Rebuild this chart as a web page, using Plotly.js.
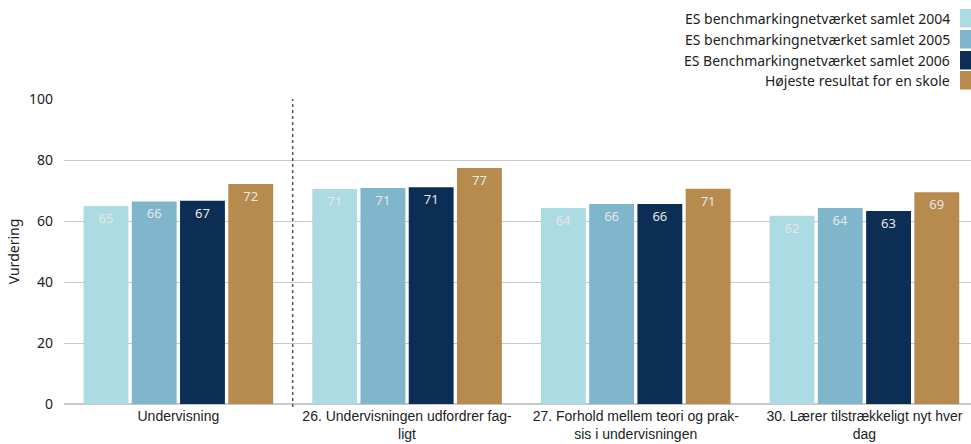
<!DOCTYPE html>
<html>
<head>
<meta charset="utf-8">
<script src="https://cdn.plot.ly/plotly-3.0.1.min.js"></script>
<style>html,body{margin:0;padding:0;background:#fff;}#chart{width:971px;height:444px;}</style>
</head>
<body>
<div id="chart"></div>
<script>
const categories = ["Undervisning", "26. Undervisningen udfordrer fag-<br>ligt", "27. Forhold mellem teori og prak-<br>sis i undervisningen", "30. Lærer tilstrækkeligt nyt hver<br>dag"];
const seriesNames = ["ES benchmarkingnetværket samlet 2004", "ES benchmarkingnetværket samlet 2005", "ES Benchmarkingnetværket samlet 2006", "Højeste resultat for en skole"];
const values2004 = [64.9, 70.5, 64.3, 61.7];
const values2005 = [66.4, 70.8, 65.6, 64.3];
const values2006 = [66.6, 71.1, 65.6, 63.3];
const valuesBest = [72.1, 77.4, 70.6, 69.4];
const labels2004 = ["65", "71", "64", "62"];
const labels2005 = ["66", "71", "66", "64"];
const labels2006 = ["67", "71", "66", "63"];
const labelsBest = ["72", "77", "71", "69"];
const colors = ["#ADDBE3", "#7FB6CB", "#0C2E55", "#B78A4E"];
const yTicks = [0, 20, 40, 60, 80, 100];

const allValues = [values2004, values2005, values2006, valuesBest];
const allLabels = [labels2004, labels2005, labels2006, labelsBest];
const xIdx = categories.map((c, i) => i);

const traces = allValues.map((v, k) => ({
  type: 'bar',
  name: seriesNames[k],
  x: xIdx,
  y: v,
  text: allLabels[k],
  textposition: 'inside',
  insidetextanchor: 'end',
  textangle: 0,
  textfont: {family: 'Noto Sans, sans-serif', size: 13, color: '#E6E6E6'},
  marker: {color: colors[k], line: {width: 0}},
  hoverinfo: 'skip',
  showlegend: false,
  cliponaxis: false
}));

const shapes = [{
  type: 'line', xref: 'x', yref: 'paper', x0: 0.5, x1: 0.5, y0: -0.01, y1: 1,
  line: {color: '#555', width: 1.5, dash: 'dot'}
}];
const annotations = [];
const rowTop = [9, 30, 51, 71];
const rowH = 18.5;
const plotTop = 99, plotH = 305, plotL = 64, plotW = 907;
seriesNames.forEach((n, k) => {
  const yTopPx = rowTop[k];
  const y1 = (plotTop + plotH - yTopPx) / plotH;
  const y0 = (plotTop + plotH - yTopPx - rowH) / plotH;
  shapes.push({type: 'rect', xref: 'paper', yref: 'paper',
    x0: (960 - plotL) / plotW, x1: 1, y0: y0, y1: y1,
    fillcolor: colors[k], line: {width: 0}});
  annotations.push({xref: 'paper', yref: 'paper', x: (952 - plotL) / plotW, y: (y0 + y1) / 2,
    xanchor: 'right', yanchor: 'middle', showarrow: false, text: n,
    font: {family: 'Noto Sans, sans-serif', size: 14, color: '#222'}});
});

const layout = {
  width: 971, height: 444,
  margin: {l: 64, r: 0, t: 99, b: 40},
  paper_bgcolor: '#fff', plot_bgcolor: '#fff',
  barmode: 'group', bargap: 0.156, bargroupgap: 0.07,
  xaxis: {
    range: [-0.5, 3.466],
    tickvals: xIdx, ticktext: categories,
    showgrid: false, zeroline: false, showline: false, ticks: '',
    tickfont: {family: 'Liberation Sans, Arial, sans-serif', size: 14, color: '#222'},
    ticklabelstandoff: 2,
    fixedrange: true
  },
  yaxis: {
    range: [0, 100], tickvals: yTicks, ticktext: yTicks.map(String),
    showgrid: true, gridcolor: '#C8C8C8', gridwidth: 1,
    zeroline: true, zerolinecolor: '#C8C8C8', zerolinewidth: 1.5,
    showline: false, ticks: '', ticklabelstandoff: 10,
    tickfont: {family: 'Noto Sans, sans-serif', size: 14, color: '#222'},
    title: {text: 'Vurdering', font: {family: 'Noto Sans, sans-serif', size: 14, color: '#222'}, standoff: 6},
    fixedrange: true
  },
  shapes: shapes,
  annotations: annotations,
  showlegend: false
};

Plotly.newPlot('chart', traces, layout, {displayModeBar: false, staticPlot: true});
</script>
</body>
</html>
